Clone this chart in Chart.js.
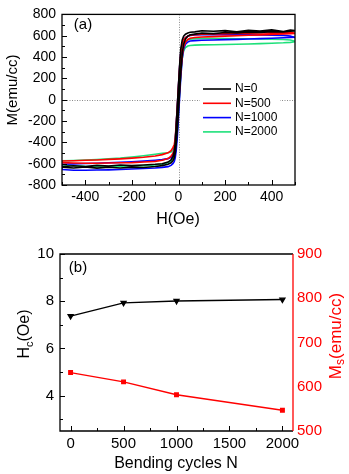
<!DOCTYPE html>
<html>
<head>
<meta charset="utf-8">
<script src="https://cdn.jsdelivr.net/npm/chart.js@4.4.0/dist/chart.umd.min.js"></script>
<style>
body { margin: 0; background: #fff; }
canvas { display: block; }
</style>
</head>
<body>
<canvas id="chartA" width="349" height="237"></canvas>
<canvas id="chartB" width="349" height="237"></canvas>
<script>
// ---- (a) M-H loops ----
const fieldDown = [500, 480, 450, 400, 350, 300, 250, 200, 150, 100, 70, 50, 40, 30, 22, 16, 10, 5, 0, -5, -10, -14, -18, -24, -32, -45, -70, -100, -150, -200, -250, -300, -350, -400, -450, -500];
const fieldUp = [-500, -450, -400, -350, -300, -250, -200, -150, -100, -70, -45, -32, -24, -18, -14, -10, -5, 0, 5, 10, 16, 22, 30, 40, 50, 70, 100, 150, 200, 250, 300, 350, 400, 450, 480, 500];

const m0Down = [648, 652, 640, 655, 644, 650, 638, 648, 642, 646, 636, 632, 626, 614, 595, 560, 480, 330, 140, -60, -250, -400, -480, -535, -565, -585, -600, -606, -612, -618, -612, -622, -616, -626, -620, -628];
const m0Up = [-632, -640, -630, -642, -634, -640, -632, -636, -626, -618, -606, -592, -572, -545, -500, -420, -280, -100, 80, 260, 430, 520, 570, 596, 608, 615, 624, 620, 630, 626, 634, 630, 638, 636, 642, 645];

const m500Down = [625, 630, 628, 627, 625, 623, 621, 619, 617, 614, 610, 604, 596, 582, 560, 522, 445, 310, 130, -60, -235, -360, -420, -450, -478, -498, -515, -528, -540, -548, -555, -560, -565, -568, -572, -575];
const m500Up = [-590, -594, -596, -596, -594, -592, -590, -585, -578, -568, -552, -530, -505, -470, -420, -340, -210, -50, 110, 270, 410, 495, 540, 565, 576, 583, 588, 592, 596, 600, 604, 608, 612, 616, 620, 622];

const m1000Down = [582, 596, 603, 606, 607, 608, 608, 609, 610, 610, 607, 602, 595, 582, 562, 528, 452, 318, 135, -55, -240, -385, -465, -515, -540, -553, -562, -568, -576, -583, -588, -592, -596, -599, -602, -605];
const m1000Up = [-655, -662, -662, -660, -658, -655, -650, -645, -640, -635, -628, -616, -600, -578, -545, -480, -350, -165, 30, 215, 385, 475, 520, 542, 550, 554, 557, 560, 563, 566, 569, 573, 577, 581, 584, 586];

const m2000Down = [548, 560, 565, 568, 570, 571, 572, 573, 574, 575, 573, 568, 561, 548, 528, 492, 418, 288, 108, -80, -258, -385, -445, -475, -490, -497, -503, -512, -526, -538, -548, -555, -561, -566, -570, -573];
const m2000Up = [-610, -620, -625, -626, -625, -624, -622, -619, -612, -604, -592, -576, -555, -528, -490, -415, -285, -98, 82, 250, 388, 458, 490, 504, 509, 512, 514, 516, 518, 520, 523, 526, 530, 534, 538, 544];

const loopLabels = ["N=0", "N=500", "N=1000", "N=2000"];
const loopColors = ["#000000", "#ff0000", "#0000ff", "#1ee07a"];
const loopDown = [m0Down, m500Down, m1000Down, m2000Down];
const loopUp = [m0Up, m500Up, m1000Up, m2000Up];

const xTicksA = [-400, -200, 0, 200, 400];
const yTicksA = [-800, -600, -400, -200, 0, 200, 400, 600, 800];

// ---- (b) Hc and Ms vs bending cycles ----
const cycles = [0, 500, 1000, 2000];
const hcValues = [7.37, 7.93, 8.01, 8.07];
const msValues = [632, 611, 582, 547];
const xTicksB = [0, 500, 1000, 1500, 2000];
const hcTicks = [4, 6, 8, 10];
const msTicks = [500, 600, 700, 800, 900];

const FONT = '"Liberation Sans", Arial, sans-serif';

function drawParts(ctx, parts, cx, cy, rotate, color) {
  ctx.save();
  ctx.translate(cx, cy);
  if (rotate) ctx.rotate(-Math.PI / 2);
  ctx.fillStyle = color;
  ctx.textBaseline = "middle";
  ctx.textAlign = "left";
  let w = 0;
  parts.forEach((p) => {
    ctx.font = p.size + "px " + FONT;
    w += ctx.measureText(p.t).width;
  });
  let x = -w / 2;
  parts.forEach((p) => {
    ctx.font = p.size + "px " + FONT;
    ctx.fillText(p.t, x, p.dy || 0);
    x += ctx.measureText(p.t).width;
  });
  ctx.restore();
}

function midpoints(vals, lo, hi) {
  const step = vals[1] - vals[0];
  const out = [];
  for (let v = vals[0] - step / 2; v <= hi; v += step) {
    if (v >= lo) out.push(v);
  }
  return out;
}

function drawTicks(ctx, scale, values, len, color) {
  const a = scale.chart.chartArea;
  ctx.save();
  ctx.strokeStyle = color;
  ctx.lineWidth = 1;
  values.forEach((v) => {
    const p = Math.round(scale.getPixelForValue(v)) + 0.5;
    ctx.beginPath();
    if (scale.isHorizontal()) {
      ctx.moveTo(p, a.bottom);
      ctx.lineTo(p, a.bottom - len);
    } else if (scale.position === "left") {
      ctx.moveTo(a.left, p);
      ctx.lineTo(a.left + len, p);
    } else {
      ctx.moveTo(a.right, p);
      ctx.lineTo(a.right - len, p);
    }
    ctx.stroke();
  });
  ctx.restore();
}

function fixedTicks(list) {
  return (scale) => { scale.ticks = list.map((v) => ({ value: v })); };
}

const plainLabel = (v) => String(v);

const decorA = {
  id: "decorA",
  beforeDatasetsDraw(chart) {
    const ctx = chart.ctx, a = chart.chartArea;
    const x0 = chart.scales.x.getPixelForValue(0);
    const y0 = chart.scales.y.getPixelForValue(0);
    ctx.save();
    ctx.strokeStyle = "#8a8a8a";
    ctx.lineWidth = 1;
    ctx.setLineDash([1, 1.5]);
    ctx.beginPath();
    ctx.moveTo(a.left, Math.round(y0) + 0.5);
    ctx.lineTo(a.right, Math.round(y0) + 0.5);
    ctx.moveTo(Math.round(x0) + 0.5, a.top);
    ctx.lineTo(Math.round(x0) + 0.5, a.bottom);
    ctx.stroke();
    ctx.restore();
  },
  afterDraw(chart) {
    const ctx = chart.ctx, a = chart.chartArea;
    ctx.save();
    ctx.strokeStyle = "#000";
    ctx.lineWidth = 1.3;
    ctx.strokeRect(a.left, a.top, a.right - a.left, a.bottom - a.top);
    ctx.restore();
    const xs = chart.scales.x, ys = chart.scales.y;
    drawTicks(ctx, xs, xTicksA, 5, "#000");
    drawTicks(ctx, xs, midpoints(xTicksA, -500, 500), 3, "#000");
    drawTicks(ctx, ys, yTicksA, 5, "#000");
    drawTicks(ctx, ys, midpoints(yTicksA, -800, 800), 3, "#000");

    // legend
    ctx.save();
    ctx.fillStyle = "#fff";
    ctx.fillRect(200, 82, 80, 58);
    ctx.font = "12px " + FONT;
    ctx.textBaseline = "middle";
    loopLabels.forEach((lab, i) => {
      const y = 89 + i * 14.3;
      ctx.strokeStyle = loopColors[i];
      ctx.lineWidth = 1.6;
      ctx.beginPath();
      ctx.moveTo(203, y);
      ctx.lineTo(231, y);
      ctx.stroke();
      ctx.fillStyle = "#000";
      ctx.fillText(lab, 235, y);
    });
    ctx.restore();

    drawParts(ctx, [{ t: "M(emu/cc)", size: 15 }], 13, 90, true, "#000");
    drawParts(ctx, [{ t: "H(Oe)", size: 16 }], 178, 220, false, "#000");
    drawParts(ctx, [{ t: "(a)", size: 15 }], 83, 25, false, "#000");
  }
};

const loopSets = loopLabels.map((lab, i) => ({
  label: lab,
  data: fieldDown.map((h, k) => ({ x: h, y: loopDown[i][k] }))
    .concat(fieldUp.map((h, k) => ({ x: h, y: loopUp[i][k] }))),
  borderColor: loopColors[i],
  borderWidth: 1.6,
  pointRadius: 0,
  showLine: true,
  tension: 0
}));

new Chart(document.getElementById("chartA"), {
  type: "scatter",
  data: { datasets: loopSets },
  options: {
    responsive: false,
    animation: false,
    layout: { padding: { top: 9, right: 54, left: 0, bottom: 0 } },
    plugins: { legend: { display: false }, tooltip: { enabled: false } },
    scales: {
      x: {
        type: "linear", min: -500, max: 500,
        afterBuildTicks: fixedTicks(xTicksA),
        afterFit: (s) => { s.height = 52; },
        grid: { display: false, drawTicks: false },
        border: { display: false },
        ticks: { color: "#000", font: { family: FONT, size: 14 }, padding: 4, maxRotation: 0, callback: plainLabel }
      },
      y: {
        type: "linear", min: -800, max: 800,
        afterBuildTicks: fixedTicks(yTicksA),
        afterFit: (s) => { s.width = 62; },
        grid: { display: false, drawTicks: false },
        border: { display: false },
        ticks: { color: "#000", font: { family: FONT, size: 14 }, padding: 6, callback: plainLabel }
      }
    }
  },
  plugins: [decorA]
});

const decorB = {
  id: "decorB",
  afterDraw(chart) {
    const ctx = chart.ctx, a = chart.chartArea;
    ctx.save();
    ctx.lineWidth = 1.3;
    ctx.strokeStyle = "#000";
    ctx.beginPath();
    ctx.moveTo(a.right, a.top);
    ctx.lineTo(a.left, a.top);
    ctx.lineTo(a.left, a.bottom);
    ctx.lineTo(a.right, a.bottom);
    ctx.stroke();
    ctx.strokeStyle = "#ff0000";
    ctx.beginPath();
    ctx.moveTo(a.right, a.top);
    ctx.lineTo(a.right, a.bottom);
    ctx.stroke();
    ctx.restore();
    const xs = chart.scales.x, ys = chart.scales.y;
    drawTicks(ctx, xs, xTicksB, 5, "#000");
    drawTicks(ctx, xs, midpoints(xTicksB, -100, 2100), 3, "#000");
    drawTicks(ctx, ys, hcTicks, 5, "#000");
    drawTicks(ctx, ys, midpoints(hcTicks, 2.5, 10), 3, "#000");

    drawParts(ctx, [{ t: "H", size: 16 }, { t: "c", size: 11, dy: 5 }, { t: "(Oe)", size: 16 }], 25, 97, true, "#000");
    drawParts(ctx, [{ t: "M", size: 17 }, { t: "s", size: 12, dy: 5 }, { t: "(emu/cc)", size: 17 }], 336, 99, true, "#ff0000");
    drawParts(ctx, [{ t: "Bending cycles N", size: 16 }], 176, 227, false, "#000");
    drawParts(ctx, [{ t: "(b)", size: 15 }], 78, 31, false, "#000");
  }
};

new Chart(document.getElementById("chartB"), {
  type: "line",
  data: {
    datasets: [
      {
        label: "Hc",
        data: cycles.map((c, i) => ({ x: c, y: hcValues[i] })),
        yAxisID: "y",
        borderColor: "#000",
        backgroundColor: "#000",
        borderWidth: 1.4,
        pointStyle: "triangle",
        pointRotation: 180,
        pointRadius: 2.8,
        tension: 0
      },
      {
        label: "Ms",
        data: cycles.map((c, i) => ({ x: c, y: msValues[i] })),
        yAxisID: "y1",
        borderColor: "#ff0000",
        backgroundColor: "#ff0000",
        borderWidth: 1.4,
        pointStyle: "rect",
        pointRadius: 2.5,
        tension: 0
      }
    ]
  },
  options: {
    responsive: false,
    animation: false,
    layout: { padding: { top: 17, right: 0, left: 0, bottom: 0 } },
    plugins: { legend: { display: false }, tooltip: { enabled: false } },
    scales: {
      x: {
        type: "linear", min: -100, max: 2100,
        afterBuildTicks: fixedTicks(xTicksB),
        afterFit: (s) => { s.height = 43; },
        grid: { display: false, drawTicks: false },
        border: { display: false },
        ticks: { color: "#000", font: { family: FONT, size: 15 }, padding: 4, maxRotation: 0, callback: plainLabel }
      },
      y: {
        type: "linear", position: "left", min: 2.5, max: 10,
        afterBuildTicks: fixedTicks(hcTicks),
        afterFit: (s) => { s.width = 60; },
        grid: { display: false, drawTicks: false },
        border: { display: false },
        ticks: { color: "#000", font: { family: FONT, size: 15 }, padding: 6, callback: plainLabel }
      },
      y1: {
        type: "linear", position: "right", min: 500, max: 900,
        afterBuildTicks: fixedTicks(msTicks),
        afterFit: (s) => { s.width = 56; },
        grid: { display: false, drawTicks: false },
        border: { display: false },
        ticks: { color: "#ff0000", font: { family: FONT, size: 15 }, padding: 4, callback: plainLabel }
      }
    }
  },
  plugins: [decorB]
});
</script>
</body>
</html>
